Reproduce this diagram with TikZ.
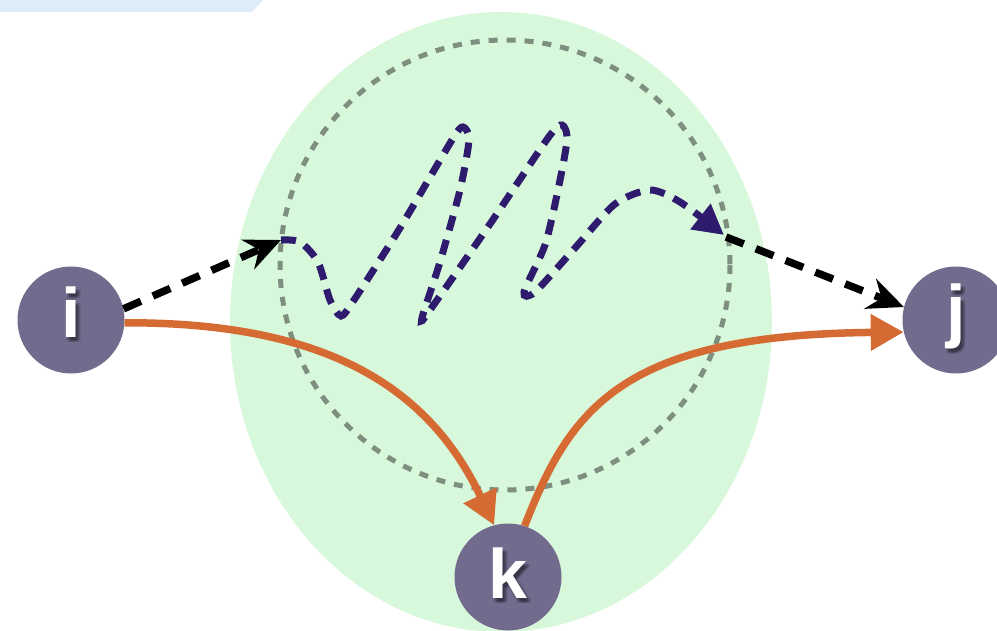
\documentclass[tikz,border=0pt]{standalone}
\usepackage{fontspec}
\setsansfont{Liberation Sans}
\usetikzlibrary{arrows.meta}
\definecolor{bandblue}{HTML}{DEEBF9}
\definecolor{blobgreen}{HTML}{D8F8DB}
\definecolor{ringgray}{HTML}{7E8F7F}
\definecolor{nodepurple}{HTML}{736B8E}
\definecolor{squigpurple}{HTML}{2F1B6E}
\definecolor{pathorange}{HTML}{D56B33}
\tikzset{
  vertex/.style={circle, fill=nodepurple, minimum size=107pt, inner sep=0pt},
  vlabel/.style={text=white, font=\sffamily\bfseries\fontsize{70}{70}\selectfont, inner sep=0pt},
  vshadow/.style={text=black, opacity=0.13, font=\sffamily\bfseries\fontsize{70}{70}\selectfont, inner sep=0pt},
  blackdash/.style={draw=black, line width=7.5pt, dash pattern=on 19pt off 13pt,
    -{Stealth[length=36pt, width=32pt, inset=12pt]}},
  squig/.style={draw=squigpurple, line width=7pt, dash pattern=on 15pt off 10pt,
    -{Triangle[length=30pt, width=31pt]}},
  orangepath/.style={draw=pathorange, line width=7.5pt, -{Triangle[length=33pt, width=35pt]}},
  ring/.style={draw=ringgray, line width=5pt, dash pattern=on 9pt off 9pt}
}
\begin{document}
\begin{tikzpicture}[x=1pt, y=-1pt]
\useasboundingbox (0,0) rectangle (997,631);
% top band
\fill[bandblue] (0,0) -- (263,0) -- (252,12) -- (0,12) -- cycle;
% green blob
\fill[blobgreen] (501,322) ellipse [x radius=271, y radius=310];
% dashed ring
\draw[ring] (505,265) circle [radius=225];
% nodes
\node[vertex] (i) at (71,320) {};
\node[vertex] (j) at (956,320) {};
\node[vertex] (k) at (508,577) {};
% soft text shadows
\foreach \dx/\dy [count=\n] in {2/3,4/5,3/4,5/3,1/5} {
  \node[vshadow] (is\n) at (71+\dx,312+\dy) {i};
  \node[vshadow] (js\n) at (956+\dx,316+\dy) {j};
  \node[vshadow] (ks\n) at (508+\dx,573+\dy) {k};
}
\node[vlabel] (il) at (71,312) {i};
\node[vlabel] (jl) at (956,316) {j};
\node[vlabel] (kl) at (508,573) {k};
% coordinates for the squiggle ends
\coordinate (a1) at (281,240);
\coordinate (a2) at (726,237);
% black dashed connectors
\draw[blackdash] (i.12) -- (a1);
\draw[blackdash] (a2) -- (j.166);
% purple squiggle
\draw[squig] plot[smooth, tension=0.45] coordinates {
  (281,240) (300,242) (318,262) (330,300) (341,316) (354,300)
  (400,228) (452,140) (463,127) (469,140) (460,190) (440,262) (422,318)
  (430,310) (490,224) (548,138) (562,125) (567,140) (558,190) (545,245) (524,292)
  (535,292) (575,248) (615,204) (650,190) (680,202) (724,235)};
% orange paths
\draw[orangepath] (i.-3) .. controls (330,322) and (430,390) .. (k.105);
\draw[orangepath] (k.72) .. controls (570,410) and (620,335) .. (j.193);
\end{tikzpicture}
\end{document}
